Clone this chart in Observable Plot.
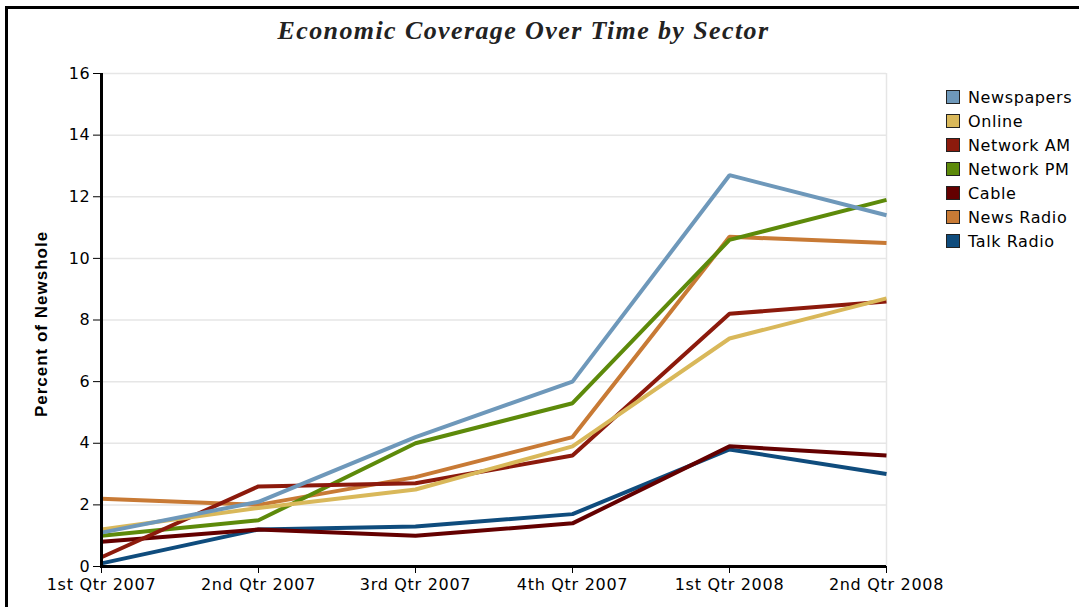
<!DOCTYPE html>
<html>
<head>
<meta charset="utf-8">
<script src="https://cdn.jsdelivr.net/npm/d3@7"></script>
<script src="https://cdn.jsdelivr.net/npm/@observablehq/plot@0.6"></script>
<style>
  html, body { margin: 0; padding: 0; background: #fff; }
  #wrap { position: relative; width: 1079px; height: 607px; overflow: hidden; background: #fff; }
  #frame { position: absolute; left: 5px; top: 6px; width: 1200px; height: 800px; border-left: 3px solid #000; border-top: 3px solid #000; }
  #title { position: absolute; left: 0; top: 16px; width: 1047px; text-align: center; font-family: "Liberation Serif", "Times New Roman", serif; font-style: italic; font-weight: bold; font-size: 26px; letter-spacing: 1.4px; color: #222; }
  #chart { position: absolute; left: 0; top: 55px; }
  #ylabel { position: absolute; left: 42px; top: 324px; transform: translate(-50%, -50%) rotate(-90deg); font-family: "Liberation Sans", Arial, sans-serif; font-weight: bold; font-size: 17px; letter-spacing: 1px; white-space: nowrap; color: #000; }
  #legend { position: absolute; left: 946px; top: 85px; font-family: "DejaVu Sans", sans-serif; font-size: 16px; letter-spacing: 0.6px; color: #000; }
  .item { display: flex; align-items: center; height: 24px; }
  .sw { width: 12px; height: 12px; border: 1.5px solid #222; margin-right: 8px; }
</style>
</head>
<body>
<div id="wrap">
  <div id="frame"></div>
  <div id="title">Economic Coverage Over Time by Sector</div>
  <div id="chart"></div>
  <div id="ylabel">Percent of Newshole</div>
  <div id="legend"></div>
</div>
<script>
const quarters = ["1st Qtr 2007", "2nd Qtr 2007", "3rd Qtr 2007", "4th Qtr 2007", "1st Qtr 2008", "2nd Qtr 2008"];
const seriesNames = ["Newspapers", "Online", "Network AM", "Network PM", "Cable", "News Radio", "Talk Radio"];
const seriesColors = ["#6E98BA", "#D9B85A", "#8C1A0C", "#5D8A0A", "#640000", "#C87A35", "#0F4C7D"];
const yTicks = [0, 2, 4, 6, 8, 10, 12, 14, 16];

const newspapers = [1.1, 2.1, 4.2, 6.0, 12.7, 11.4];
const online     = [1.2, 1.9, 2.5, 3.9, 7.4, 8.7];
const networkAM  = [0.3, 2.6, 2.7, 3.6, 8.2, 8.6];
const networkPM  = [1.0, 1.5, 4.0, 5.3, 10.6, 11.9];
const cable      = [0.8, 1.2, 1.0, 1.4, 3.9, 3.6];
const newsRadio  = [2.2, 2.0, 2.9, 4.2, 10.7, 10.5];
const talkRadio  = [0.1, 1.2, 1.3, 1.7, 3.8, 3.0];

const seriesValues = [newspapers, online, networkAM, networkPM, cable, newsRadio, talkRadio];

// draw in reverse so the first legend entry sits on top
const data = [];
for (let i = seriesNames.length - 1; i >= 0; i--) {
  seriesValues[i].forEach((v, j) => data.push({series: seriesNames[i], quarter: quarters[j], value: v}));
}

const chart = Plot.plot({
  width: 1079,
  height: 552,
  marginTop: 18,
  marginBottom: 41,
  marginLeft: 100,
  marginRight: 193,
  style: {fontFamily: "DejaVu Sans, sans-serif", fontSize: "16px", letterSpacing: "0.7px", color: "#000", background: "transparent", overflow: "visible"},
  x: {type: "point", domain: quarters, padding: 0, label: null, tickSize: 7, tickPadding: 5},
  y: {domain: [0, 16], ticks: yTicks, label: null, tickSize: 7, tickPadding: 3},
  color: {domain: seriesNames, range: seriesColors},
  marks: [
    Plot.ruleY(yTicks.filter(d => d > 0), {stroke: "#e6e6e6", strokeWidth: 1.5}),
    Plot.ruleX([quarters[quarters.length - 1]], {stroke: "#e6e6e6", strokeWidth: 1.5}),
    Plot.line(data, {x: "quarter", y: "value", z: "series", stroke: "series", strokeWidth: 4, strokeLinejoin: "miter", strokeLinecap: "butt"}),
    Plot.ruleX([quarters[0]], {stroke: "#000", strokeWidth: 3}),
    Plot.ruleY([0], {stroke: "#000", strokeWidth: 3})
  ]
});
document.getElementById("chart").appendChild(chart);

const legend = document.getElementById("legend");
seriesNames.forEach((name, i) => {
  const item = document.createElement("div");
  item.className = "item";
  const sw = document.createElement("div");
  sw.className = "sw";
  sw.style.background = seriesColors[i];
  const label = document.createElement("span");
  label.textContent = name;
  item.appendChild(sw);
  item.appendChild(label);
  legend.appendChild(item);
});
</script>
</body>
</html>
